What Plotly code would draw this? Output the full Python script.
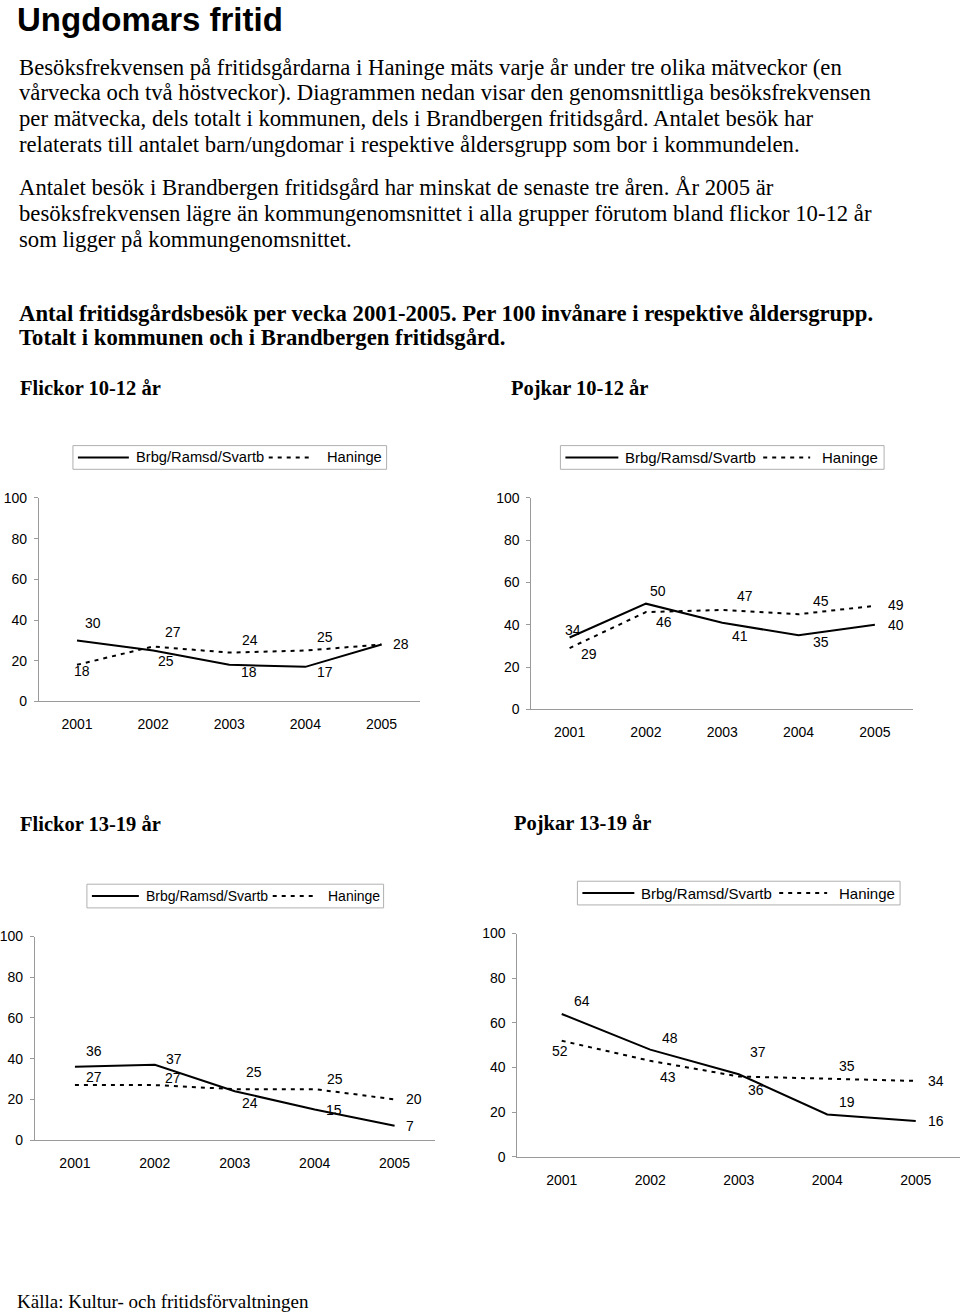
import plotly.graph_objects as go

W, H = 960, 1313

# data
years = ['2001', '2002', '2003', '2004', '2005']
series_names = ['Brbg/Ramsd/Svartb', 'Haninge']

flickor_1012_brbg = [30, 25, 18, 17, 28]
flickor_1012_haninge = [18, 27, 24, 25, 28]
pojkar_1012_brbg = [34, 50, 41, 35, 40]
pojkar_1012_haninge = [29, 46, 47, 45, 49]
flickor_1319_brbg = [36, 37, 24, 15, 7]
flickor_1319_haninge = [27, 27, 25, 25, 20]
pojkar_1319_brbg = [64, 48, 37, 19, 16]
pojkar_1319_haninge = [52, 43, 36, 35, 34]

chart_titles = ['Flickor 10-12 år', 'Pojkar 10-12 år', 'Flickor 13-19 år', 'Pojkar 13-19 år']

y_ticks = [0, 20, 40, 60, 80, 100]

title = 'Ungdomars fritid'
para1 = [
    'Besöksfrekvensen på fritidsgårdarna i Haninge mäts varje år under tre olika mätveckor (en',
    'vårvecka och två höstveckor). Diagrammen nedan visar den genomsnittliga besöksfrekvensen',
    'per mätvecka, dels totalt i kommunen, dels i Brandbergen fritidsgård. Antalet besök har',
    'relaterats till antalet barn/ungdomar i respektive åldersgrupp som bor i kommundelen.',
]
para2 = [
    'Antalet besök i Brandbergen fritidsgård har minskat de senaste tre åren. År 2005 är',
    'besöksfrekvensen lägre än kommungenomsnittet i alla grupper förutom bland flickor 10-12 år',
    'som ligger på kommungenomsnittet.',
]
bold_lines = [
    'Antal fritidsgårdsbesök per vecka 2001-2005. Per 100 invånare i respektive åldersgrupp.',
    'Totalt i kommunen och i Brandbergen fritidsgård.',
]
source = 'Källa: Kultur- och fritidsförvaltningen'

charts = [
    (flickor_1012_brbg, flickor_1012_haninge),
    (pojkar_1012_brbg, pojkar_1012_haninge),
    (flickor_1319_brbg, flickor_1319_haninge),
    (pojkar_1319_brbg, pojkar_1319_haninge),
]

# layout in pixels: plot area (x0, x1, ytop, ybottom), legend box, heading
plot_px = [
    (38, 419, 496, 702),
    (531, 913, 496, 710),
    (34, 434, 940, 1146),
    (517, 960, 937, 1163),
]
legend_px = [
    # box left, box right, centre y, text offset, dash start, dash end, haninge text, font size
    (72, 386, 455, 61, 196, 241, 252, 14.7),
    (560, 884, 455, 63, 203, 250, 260, 15),
    (86, 383, 899, 57, 186, 230, 239, 14),
    (577, 900, 896, 62, 202, 250, 260, 15),
]
heading_px = [(17, 391), (509, 391), (17, 832), (512, 832)]

# data label offsets (dx, dy in px, dy positive = down)
label_off = [
    ([(16, -17), (13, 10), (20, 7), (20, 5), (19, 0)],
     [(5, 6), (20, -15), (21, -13), (20, -14), None]),
    ([(3, -7), (12, -13), (18, 13), (22, 7), (21, 0)],
     [(19, 6), (18, 10), (23, -14), (22, -13), (21, -1)]),
    ([(19, -16), (19, -6), (15, 12), (19, 0), (15, 0)],
     [(19, -8), (18, -7), (19, -17), (20, -10), (19, 0)]),
    ([(20, -13), (20, -12), (19, -22), (20, -12), (20, 0)],
     [(-2, 10), (18, 16), (17, 14), (20, -13), (20, 0)]),
]

SANS = 'Liberation Sans, Arial, sans-serif'
SERIF = 'Liberation Serif, Times New Roman, serif'
AXIS_GREY = '#9a9a9a'
DASH = '4px,5px'
TXT_DY = 6  # annotation centre sits a bit above the glyph centre


def px(x):
    return x / W


def py(y):
    return 1 - y / H


fig = go.Figure()
annotations = []
shapes = []

for i, (brbg, haninge) in enumerate(charts):
    n = '' if i == 0 else str(i + 1)
    x0, x1, yt, yb = plot_px[i]
    fig.add_trace(go.Scatter(x=years, y=brbg, mode='lines', name=series_names[0],
                             line=dict(color='black', width=2),
                             xaxis='x' + n, yaxis='y' + n, showlegend=False))
    fig.add_trace(go.Scatter(x=years, y=haninge, mode='lines', name=series_names[1],
                             line=dict(color='black', width=2, dash=DASH),
                             xaxis='x' + n, yaxis='y' + n, showlegend=False))
    fig.layout['xaxis' + n] = dict(
        domain=[px(x0), px(x1)], anchor='y' + n, type='category',
        range=[-0.5, 4.5], showline=True, linecolor=AXIS_GREY, linewidth=1,
        showgrid=False, zeroline=False, ticks='', ticklabelstandoff=10,
        tickfont=dict(family=SANS, size=14, color='black'))
    fig.layout['yaxis' + n] = dict(
        domain=[py(yb), py(yt)], anchor='x' + n, range=[0, 100],
        tickvals=y_ticks, showline=True, linecolor=AXIS_GREY, linewidth=1,
        showgrid=False, zeroline=False, ticks='outside', ticklen=4,
        tickcolor=AXIS_GREY, ticklabelstandoff=4,
        tickfont=dict(family=SANS, size=14, color='black'))

    # data labels (category axis: place by index)
    for vals, offs in zip((brbg, haninge), label_off[i]):
        for k, (v, off) in enumerate(zip(vals, offs)):
            if off is None:
                continue
            annotations.append(dict(
                x=k, y=v, xref='x' + n, yref='y' + n, text=str(v),
                showarrow=False, xshift=off[0], yshift=-off[1],
                font=dict(family=SANS, size=14, color='black')))

    # legend box
    bl, br, cy, tx, d0, d1, hx, fs = legend_px[i]
    shapes.append(dict(type='rect', xref='paper', yref='paper',
                       x0=px(bl), x1=px(br), y0=py(cy - 12), y1=py(cy + 12),
                       line=dict(color='#b0b0b0', width=1)))
    shapes.append(dict(type='line', xref='paper', yref='paper',
                       x0=px(bl + 5), x1=px(bl + tx - 5), y0=py(cy), y1=py(cy),
                       line=dict(color='black', width=2)))
    shapes.append(dict(type='line', xref='paper', yref='paper',
                       x0=px(bl + d0), x1=px(bl + d1), y0=py(cy), y1=py(cy),
                       line=dict(color='black', width=2, dash=DASH)))
    annotations.append(dict(x=px(bl + tx), y=py(cy), xref='paper', yref='paper',
                            text=series_names[0], showarrow=False,
                            xanchor='left', yanchor='middle',
                            font=dict(family=SANS, size=fs, color='black')))
    annotations.append(dict(x=px(bl + hx), y=py(cy), xref='paper', yref='paper',
                            text=series_names[1], showarrow=False,
                            xanchor='left', yanchor='middle',
                            font=dict(family=SANS, size=fs, color='black')))

    hx_, hy_ = heading_px[i]
    annotations.append(dict(x=px(hx_), y=py(hy_ - TXT_DY), xref='paper', yref='paper',
                            text='<b>' + chart_titles[i] + '</b>', showarrow=False,
                            xanchor='left', yanchor='middle',
                            font=dict(family=SERIF, size=20.5, color='black')))


def text_line(t, x, y, family, size, bold=False):
    annotations.append(dict(x=px(x), y=py(y - TXT_DY), xref='paper', yref='paper',
                            text='<b>' + t + '</b>' if bold else t,
                            showarrow=False, xanchor='left', yanchor='middle',
                            font=dict(family=family, size=size, color='black')))


text_line(title, 14, 18, SANS, 33, bold=True)
for k, t in enumerate(para1):
    text_line(t, 16, 66 + 26 * k, SERIF, 22.7)
for k, t in enumerate(para2):
    text_line(t, 16, 188 + 26 * k, SERIF, 22.7)
for k, t in enumerate(bold_lines):
    text_line(t, 16, 315 + 25 * k, SERIF, 22.7, bold=True)
text_line(source, 14, 1315, SERIF, 19)

fig.update_layout(
    width=W, height=H,
    margin=dict(l=0, r=0, t=0, b=0),
    paper_bgcolor='white', plot_bgcolor='white',
    showlegend=False,
    annotations=annotations,
    shapes=shapes,
)

fig.write_html('out.html', config={'displayModeBar': False},
               post_script="document.body.style.margin='0px';")
